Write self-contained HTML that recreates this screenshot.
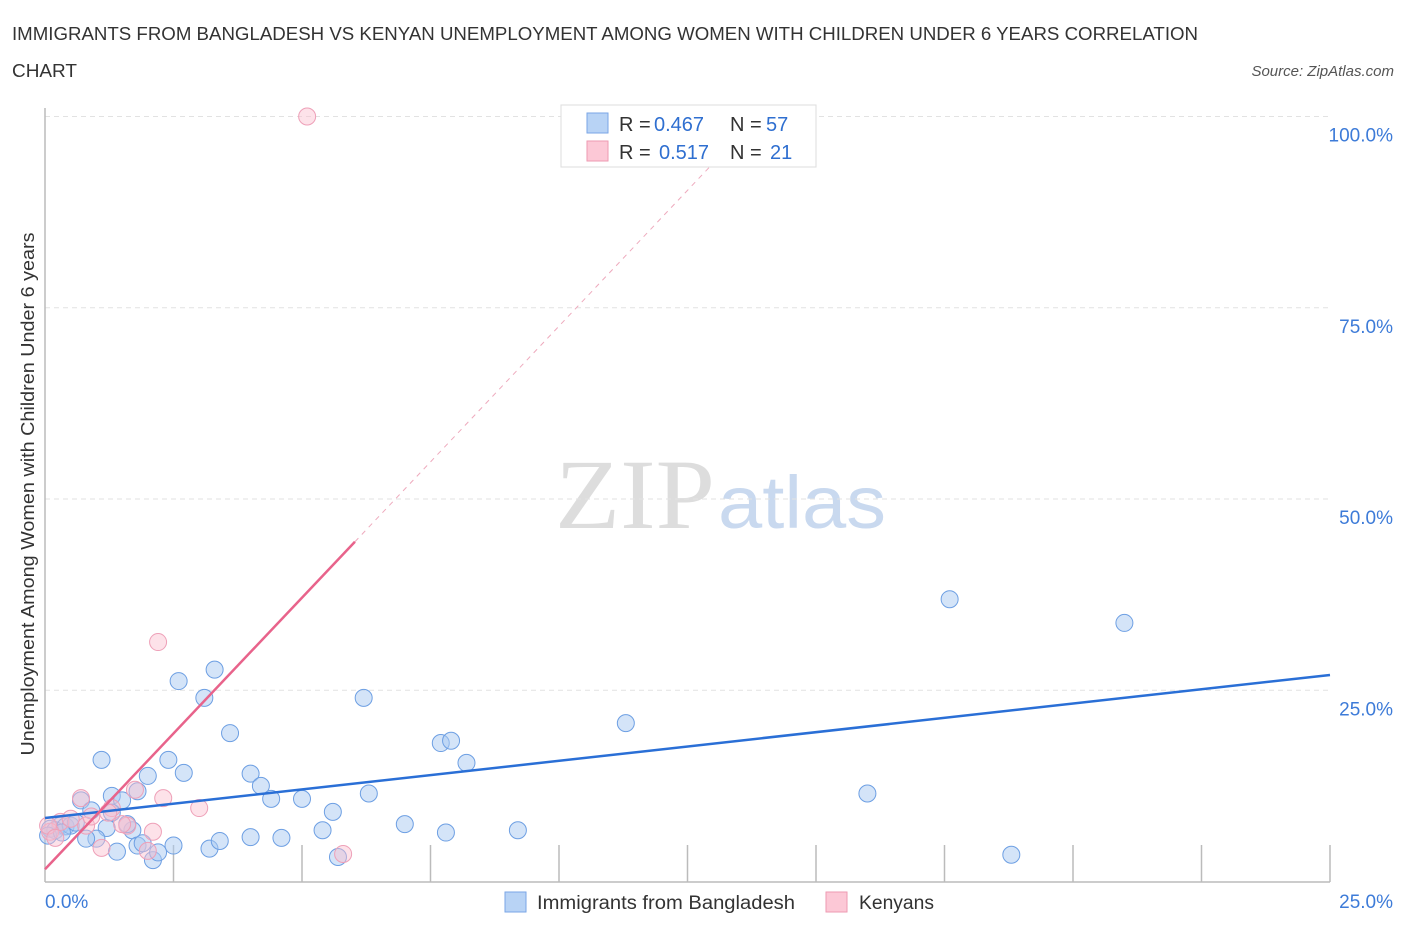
<!DOCTYPE html>
<html><head><meta charset="utf-8"><style>
body{margin:0;background:#fff;}
</style></head><body>
<svg width="1406" height="930" xmlns="http://www.w3.org/2000/svg" font-family="Liberation Sans, sans-serif">
<text x="12" y="40" font-size="18" fill="#333" textLength="1186" lengthAdjust="spacingAndGlyphs">IMMIGRANTS FROM BANGLADESH VS KENYAN UNEMPLOYMENT AMONG WOMEN WITH CHILDREN UNDER 6 YEARS CORRELATION</text>
<text x="12" y="77" font-size="18" fill="#333" textLength="65" lengthAdjust="spacingAndGlyphs">CHART</text>
<text x="1394" y="76" font-size="15" fill="#555" font-style="italic" text-anchor="end">Source: ZipAtlas.com</text>
<text x="555" y="528" font-size="100" fill="#ddd" font-family="Liberation Serif, serif" textLength="160" lengthAdjust="spacingAndGlyphs">ZIP</text>
<text x="718" y="528" font-size="74" fill="#c9d9ef" textLength="168" lengthAdjust="spacingAndGlyphs">atlas</text>
<g id="grid"></g>
<g id="axes"></g>
<g id="marks"></g>
<text transform="translate(34,494) rotate(-90)" font-size="18" fill="#333" text-anchor="middle" textLength="523" lengthAdjust="spacingAndGlyphs">Unemployment Among Women with Children Under 6 years</text>
<g>
<rect x="561" y="105" width="255" height="62" fill="#fff" stroke="#ddd"/>
<rect x="587" y="113" width="21" height="20" fill="#b8d3f5" stroke="#7aa6e6"/>
<rect x="587" y="141" width="21" height="20" fill="#fcc8d6" stroke="#ee9ab2"/>
<text x="619" y="131" font-size="20" fill="#333">R =</text>
<text x="654" y="131" font-size="20" fill="#2f6fd0">0.467</text>
<text x="730" y="131" font-size="20" fill="#333">N =</text>
<text x="766" y="131" font-size="20" fill="#2f6fd0">57</text>
<text x="619" y="159" font-size="20" fill="#333">R =</text>
<text x="659" y="159" font-size="20" fill="#2f6fd0">0.517</text>
<text x="730" y="159" font-size="20" fill="#333">N =</text>
<text x="770" y="159" font-size="20" fill="#2f6fd0">21</text>
</g>
<g>
<rect x="505" y="892" width="21" height="20" fill="#b8d3f5" stroke="#7aa6e6"/>
<text x="537" y="909" font-size="19" fill="#333" textLength="258" lengthAdjust="spacingAndGlyphs">Immigrants from Bangladesh</text>
<rect x="826" y="892" width="21" height="20" fill="#fcc8d6" stroke="#ee9ab2"/>
<text x="859" y="909" font-size="19" fill="#333" textLength="75" lengthAdjust="spacingAndGlyphs">Kenyans</text>
</g>
</svg>
<script>
const xTicks=[0,25];
const yTicks=[25,50,75,100];
const blueX=[1.1,2.6,3.3,3.1,3.6,2.4,2.0,2.7,1.8,1.3,1.5,0.7,0.9,1.7,1.2,1.0,0.8,1.4,1.8,1.9,2.1,2.2,2.5,3.2,3.4,4.0,4.6,4.0,4.2,4.4,5.0,5.4,5.6,5.7,6.2,6.3,7.0,7.7,7.9,8.2,7.8,9.2,11.3,16.0,17.6,21.0,18.8,0.3,0.1,0.2,0.4,0.5,0.6,1.3,1.6,0.06,0.33];
const blueY=[15.9,26.2,27.7,24.0,19.4,15.9,13.8,14.2,11.8,11.2,10.6,10.6,9.3,6.7,7.0,5.6,5.6,3.9,4.7,5.0,2.8,3.8,4.7,4.3,5.3,5.8,5.7,14.1,12.5,10.8,10.8,6.7,9.1,3.2,24.0,11.5,7.5,18.1,18.4,15.5,6.4,6.7,20.7,11.5,36.9,33.8,3.5,7.3,6.9,6.7,7.2,7.3,7.7,9.0,7.5,6.0,6.4];
const pinkX=[5.1,2.2,0.7,1.3,1.6,2.3,3.0,2.1,2.0,1.1,5.8,0.3,0.1,0.5,0.8,0.06,0.2,0.9,1.75,1.5,1.23];
const pinkY=[100,31.3,10.9,9.6,7.3,10.9,9.6,6.5,4.0,4.4,3.6,7.8,6.5,8.2,7.3,7.3,5.7,8.5,12.0,7.5,9.0];
const blueLine=[8.3,27.0];
const pinkLine=[1.6,7.1];
const NS='http://www.w3.org/2000/svg';
const X=v=>45+v/25*1285, Y=v=>881.5-v*7.65;
function mk(tag,attrs,parent){const e=document.createElementNS(NS,tag);for(const k in attrs)e.setAttribute(k,attrs[k]);document.getElementById(parent).appendChild(e);return e;}
yTicks.forEach(t=>{
 const g=mk('line',{x1:45,x2:1330,y1:Y(t),y2:Y(t),stroke:'#e2e2e2','stroke-dasharray':'5,4'},'grid');
 
 
 const tx=mk('text',{x:1393,y:Y(t)+25,'font-size':19,fill:'#3d7bd8','text-anchor':'end'},'axes');
 tx.textContent=t.toFixed(1)+'%';
 
 
});
const ax=mk('line',{x1:45,x2:45,y1:108,y2:882,stroke:'#bbb','stroke-width':1.5},'axes');


const bx=mk('line',{x1:45,x2:1330,y1:882,y2:882,stroke:'#bbb','stroke-width':1.5},'axes');


for(let i=1;i<=10;i++){const v=i*2.5;const t=mk('line',{x1:X(v),x2:X(v),y1:845,y2:882,stroke:'#bbb','stroke-width':1.5},'axes');
 
 }
xTicks.forEach((t,i)=>{const tx=mk('text',{x:i?1393:45,y:908,'font-size':19,fill:'#3d7bd8','text-anchor':i?'end':'start'},'axes');
 tx.textContent=t.toFixed(1)+'%';
 
 });
blueX.forEach((x,i)=>{const c=mk('circle',{cx:X(x),cy:Y(blueY[i]),r:8.5,fill:'rgba(170,202,242,0.5)',stroke:'#6d9fe3','stroke-width':1},'marks');
 
 });
pinkX.forEach((x,i)=>{const c=mk('circle',{cx:X(x),cy:Y(pinkY[i]),r:8.5,fill:'rgba(250,190,207,0.45)',stroke:'#eea0b8','stroke-width':1},'marks');
 
 });
const bl=mk('line',{x1:X(0),y1:Y(blueLine[0]),x2:X(25),y2:Y(blueLine[1]),stroke:'#2a6fd6','stroke-width':2.5},'marks');


const pe=6.03;
const pl=mk('line',{x1:X(0),y1:Y(pinkLine[0]),x2:X(pe),y2:Y(pinkLine[0]+pinkLine[1]*pe),stroke:'#e8638b','stroke-width':2.5},'marks');


const pd=13.0;
const pdl=mk('line',{x1:X(pe),y1:Y(pinkLine[0]+pinkLine[1]*pe),x2:X(pd),y2:Y(pinkLine[0]+pinkLine[1]*pd),stroke:'#eeaabd','stroke-width':1,'stroke-dasharray':'5,5'},'marks');


</script>
</body></html>
